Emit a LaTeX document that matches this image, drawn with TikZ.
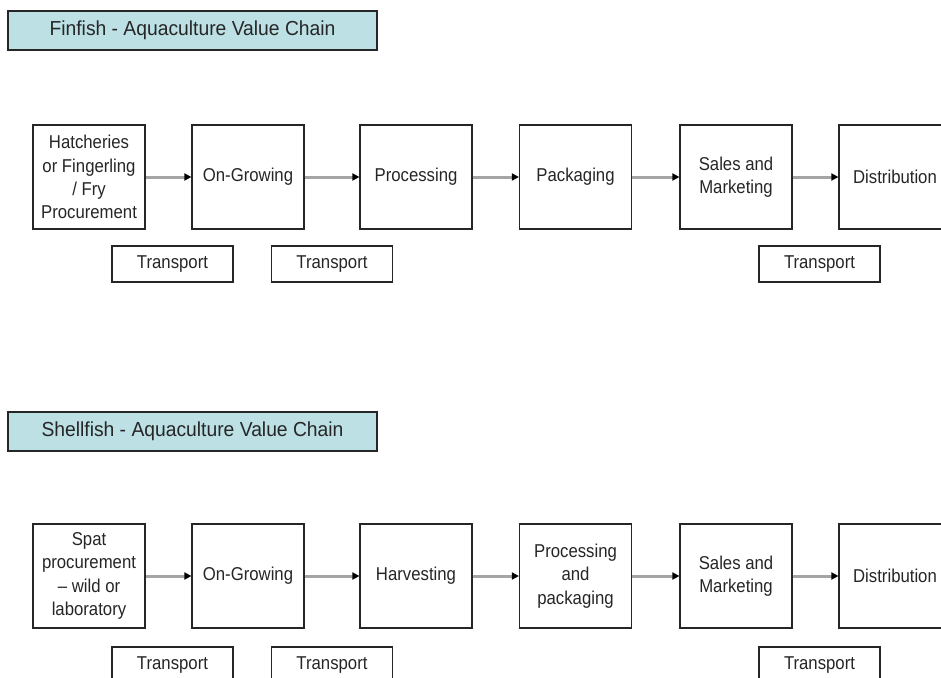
\documentclass[tikz,border=0pt]{standalone}
\usepackage{fontspec}
\setmainfont{Liberation Sans}
\newfontfamily\boxfont[FakeStretch=0.9]{Liberation Sans}
\newfontfamily\headfont[FakeStretch=0.95]{Liberation Sans}
\usetikzlibrary{arrows.meta}
\definecolor{titlefill}{RGB}{188,224,228}
\definecolor{conngray}{RGB}{165,165,165}
\begin{document}
\begin{tikzpicture}[x=1pt,y=-1pt,
  titlebox/.style={draw=black!85,line width=1.3pt,fill=titlefill,minimum width=369pt,minimum height=39pt,inner sep=0pt,font=\headfont\fontsize{20.3}{22}\selectfont,text=black!85},
  stagebox/.style={draw=black!85,line width=1.2pt,fill=white,minimum width=112pt,minimum height=104pt,inner sep=0pt,align=center,font=\boxfont\fontsize{18.6}{23.3}\selectfont,text=black!85},
  transbox/.style={draw=black!85,line width=1.2pt,fill=white,minimum width=121pt,minimum height=36pt,inner sep=0pt,font=\boxfont\fontsize{18.6}{20}\selectfont,text=black!85},
  conn/.style={draw=conngray,line width=3pt,-{Triangle[length=7pt,width=7pt,color=black]}}
]
\useasboundingbox (0,0) rectangle (941,677);
% Finfish
\node[titlebox] (t1) at (192.5,30.5) {Finfish - Aquaculture Value Chain};
\node[stagebox] (a1) at (89,177) {Hatcheries\\or Fingerling\\/ Fry\\Procurement};
\node[stagebox] (a2) at (248,177) {On-Growing};
\node[stagebox] (a3) at (416,177) {Processing};
\node[stagebox] (a4) at (575.5,177) {Packaging};
\node[stagebox] (a5) at (736,177) {Sales and\\Marketing};
\node[stagebox] (a6) at (895,177) {Distribution};
\draw[conn] (a1.east) -- (a2.west);
\draw[conn] (a2.east) -- (a3.west);
\draw[conn] (a3.east) -- (a4.west);
\draw[conn] (a4.east) -- (a5.west);
\draw[conn] (a5.east) -- (a6.west);
\node[transbox] (ta1) at (172.5,264) {Transport};
\node[transbox] (ta2) at (332,264) {Transport};
\node[transbox] (ta3) at (819.5,264) {Transport};
% Shellfish
\node[titlebox] (t2) at (192.5,431.5) {Shellfish - Aquaculture Value Chain};
\node[stagebox] (b1) at (89,576) {Spat\\procurement\\– wild or\\laboratory};
\node[stagebox] (b2) at (248,576) {On-Growing};
\node[stagebox] (b3) at (416,576) {Harvesting};
\node[stagebox] (b4) at (575.5,576) {Processing\\and\\packaging};
\node[stagebox] (b5) at (736,576) {Sales and\\Marketing};
\node[stagebox] (b6) at (895,576) {Distribution};
\draw[conn] (b1.east) -- (b2.west);
\draw[conn] (b2.east) -- (b3.west);
\draw[conn] (b3.east) -- (b4.west);
\draw[conn] (b4.east) -- (b5.west);
\draw[conn] (b5.east) -- (b6.west);
\node[transbox] (tb1) at (172.5,665) {Transport};
\node[transbox] (tb2) at (332,665) {Transport};
\node[transbox] (tb3) at (819.5,665) {Transport};
\end{tikzpicture}
\end{document}
